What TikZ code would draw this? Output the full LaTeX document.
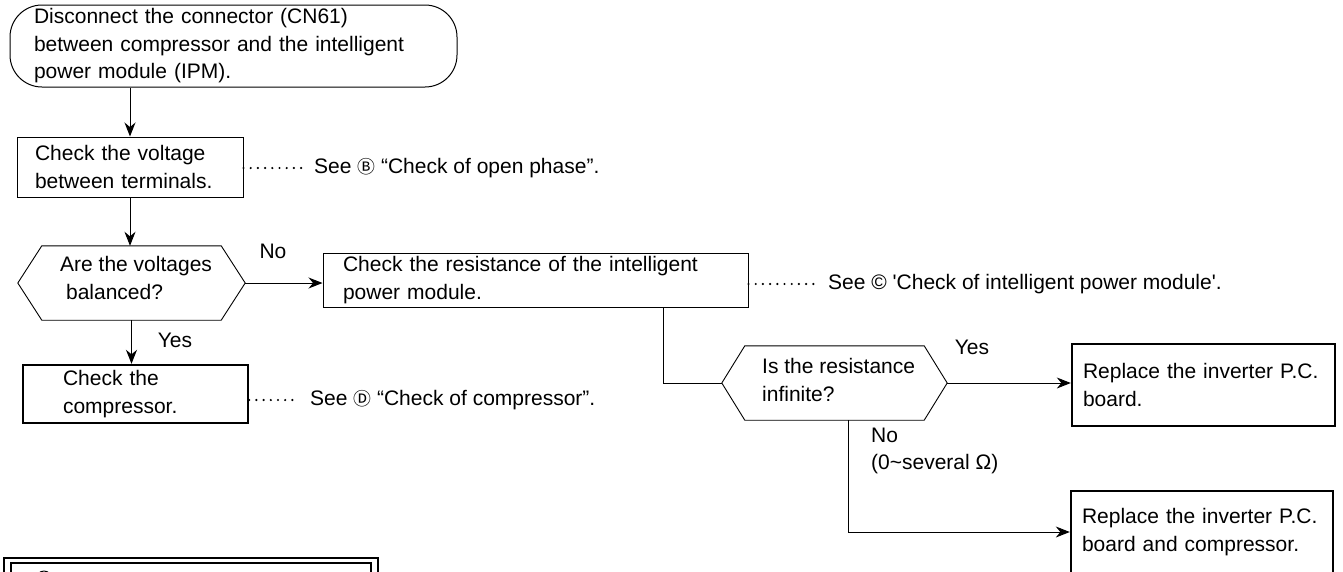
\documentclass[tikz,border=0pt]{standalone}
\usepackage{fontspec}
\setmainfont{Liberation Sans}
\newfontfamily\circfont{Noto Sans CJK JP}[Scale=0.85]
\usetikzlibrary{arrows.meta}

\begin{document}
\begin{tikzpicture}[x=1pt, y=-1pt, font=\fontsize{21}{27.5}\selectfont]
% Styles
\tikzstyle{none} = [inner sep=0pt]
\tikzstyle{note} = [inner sep=0pt, anchor=west, align=left]
\tikzstyle{terminal} = [draw, line width=1pt, rounded corners=32pt, minimum width=447pt, minimum height=82pt, inner xsep=24pt, inner ysep=0pt, text width=399pt, align=left]
\tikzstyle{box} = [draw, line width=1pt, inner ysep=0pt, align=left]
\tikzstyle{thickbox} = [box, line width=2.4pt]
\tikzstyle{hexbox} = [minimum width=227pt, minimum height=74pt, inner sep=0pt]
\tikzstyle{hexline} = [draw, line width=0.9pt]
\tikzstyle{plain} = [draw, line width=1pt]
\tikzstyle{arrow} = [draw, line width=1pt, -{Stealth[length=14pt, width=11pt]}]
\tikzstyle{seeline} = [draw, line width=2.4pt, line cap=round, dash pattern=on 0pt off 7.2pt, shorten >=12pt]

\useasboundingbox (0,0) rectangle (1343,571);
\clip (0,0) rectangle (1343,571);

\node [style=terminal] (1) at (233.5, 46) {Disconnect the connector (CN61)\\between compressor and the intelligent\\power module (IPM).};
\node [style=box, minimum width=226pt, minimum height=60pt, inner xsep=18pt, text width=190pt] (2) at (130, 167) {Check the voltage\\between terminals.};
\node [style=hexbox] (3) at (131.5, 283) {};
\node [style=note] (4) at (60, 278) {Are the voltages\\\hspace*{0.28em}balanced?};
\node [style=box, minimum width=425pt, minimum height=54pt, inner xsep=20pt, text width=385pt] (5) at (535.5, 280) {Check the resistance of the intelligent\\power module.};
\node [style=thickbox, minimum width=225pt, minimum height=58pt, inner xsep=40pt, text width=145pt] (6) at (135.5, 394) {Check the\\compressor.};
\node [style=hexbox, minimum width=225pt] (7) at (834.5, 383) {};
\node [style=note] (8) at (762, 380) {Is the resistance\\infinite?};
\node [style=thickbox, minimum width=263pt, minimum height=82pt, inner xsep=11pt, text width=241pt] (9) at (1203.5, 385) {Replace the inverter P.C.\\board.};
\node [style=thickbox, minimum width=262pt, minimum height=82pt, inner xsep=11pt, text width=240pt] (10) at (1202, 532) {Replace the inverter P.C.\\board and compressor.};
\node [style=none] (11) at (273, 251) {No};
\node [style=none] (12) at (175, 340) {Yes};
\node [style=none] (13) at (972, 347) {Yes};
\node [style=note] (14) at (871, 451) {No\\(0\textasciitilde several Ω)};
\node [style=note] (15) at (314, 168) {See {\circfont Ⓑ} “Check of open phase”.};
\node [style=note] (16) at (828, 284) {See © \textquotesingle Check of intelligent power module\textquotesingle.};
\node [style=note] (17) at (310, 400) {See {\circfont Ⓓ} “Check of compressor”.};
\coordinate (18) at (663, 383);
\coordinate (19) at (848, 532);

\draw [style=hexline] ([xshift=24pt]3.north west) -- ([xshift=-24pt]3.north east) -- (3.east) -- ([xshift=-24pt]3.south east) -- ([xshift=24pt]3.south west) -- (3.west) -- cycle;
\draw [style=hexline] ([xshift=23pt]7.north west) -- ([xshift=-23pt]7.north east) -- (7.east) -- ([xshift=-23pt]7.south east) -- ([xshift=23pt]7.south west) -- (7.west) -- cycle;

\draw [style=arrow] (2.north |- 1.south) to (2.north);
\draw [style=arrow] (2.south) to (2.south |- 3.north);
\draw [style=arrow] (3.east) to (5.west |- 3.east);
\draw [style=arrow] (3.south) to (3.south |- 6.north);
\draw [style=plain] (5.south -| 18) -- (18) -- (7.west);
\draw [style=arrow] (7.east) to (9.west |- 7.east);
\draw [style=plain] (19 |- 7.south) -- (19);
\draw [style=arrow] (19) to (10.west);
\draw [style=seeline] (2.east |- 15.west) to (15.west);
\draw [style=seeline] (5.east |- 16.west) to (16.west);
\draw [style=seeline] (6.east |- 17.west) to (17.west);

% frame of next part, cut by the page
\draw [style=plain, line width=1.3pt] (4, 558) rectangle (378, 600);
\draw [style=plain, line width=1.3pt] (11, 563) rectangle (371, 600);
\draw [style=plain] (44, 578.5) circle (7.5pt);
\end{tikzpicture}
\end{document}
